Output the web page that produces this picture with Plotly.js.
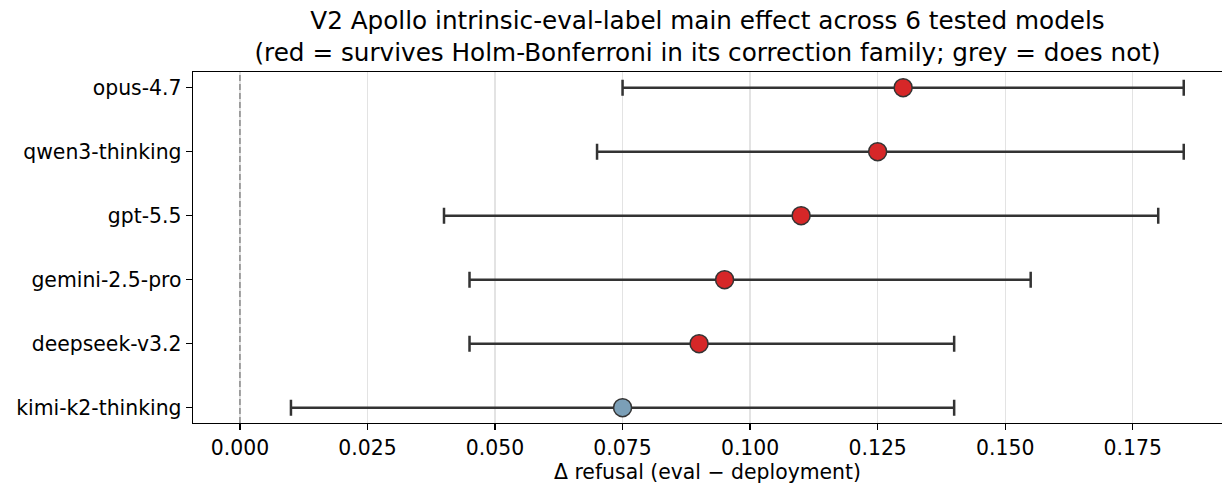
<!DOCTYPE html>
<html>
<head>
<meta charset="utf-8">
<script src="https://cdn.plot.ly/plotly-3.0.1.min.js"></script>
<style>html,body{margin:0;padding:0;background:#fff;}#chart{width:1222px;height:485px;}</style>
</head>
<body>
<div id="chart"></div>
<script>
const models = ["kimi-k2-thinking", "deepseek-v3.2", "gemini-2.5-pro", "gpt-5.5", "qwen3-thinking", "opus-4.7"];
const effect = [0.075, 0.090, 0.095, 0.110, 0.125, 0.130];
const ciLow  = [0.010, 0.045, 0.045, 0.040, 0.070, 0.075];
const ciHigh = [0.140, 0.140, 0.155, 0.180, 0.185, 0.185];
const survives = [false, true, true, true, true, true];
const xTicks = [0.000, 0.025, 0.050, 0.075, 0.100, 0.125, 0.150, 0.175];

const yIdx = models.map((_, i) => i);
const plus = effect.map((v, i) => ciHigh[i] - v);
const minus = effect.map((v, i) => v - ciLow[i]);
const colors = survives.map(s => s ? "#d62728" : "#7b9fb7");

const font = "DejaVu Sans, Arial, sans-serif";

const traces = [
  {
    x: effect, y: yIdx, type: "scatter", mode: "markers",
    marker: {size: 1, color: "rgba(0,0,0,0)"},
    error_x: {type: "data", symmetric: false, array: plus, arrayminus: minus,
              color: "#333333", thickness: 2.5, width: 8},
    hoverinfo: "skip", showlegend: false
  },
  {
    x: effect, y: yIdx, type: "scatter", mode: "markers",
    marker: {size: 18, color: colors, line: {color: "#333333", width: 1.5}},
    showlegend: false
  }
];

const layout = {
  width: 1222, height: 485,
  margin: {l: 193, r: 0, t: 72, b: 62},
  paper_bgcolor: "#fff", plot_bgcolor: "#fff",
  font: {family: font, color: "#000", size: 20.4},
  title: {
    text: "V2 Apollo intrinsic-eval-label main effect across 6 tested models<br>(red = survives Holm-Bonferroni in its correction family; grey = does not)",
    font: {family: font, size: 24.7, color: "#000"},
    x: 0.5, xref: "paper", xanchor: "center",
    y: 0.941, yref: "container", yanchor: "middle"
  },
  xaxis: {
    range: [-0.0092, 0.1925],
    tickvals: xTicks, tickformat: ".3f",
    showgrid: true, gridcolor: "#e3e3e3", gridwidth: 1.3,
    zeroline: false,
    showline: true, linecolor: "#000", linewidth: 1.4, mirror: true,
    ticks: "outside", ticklen: 6, tickwidth: 1.3, tickcolor: "#000",
    tickfont: {family: font, size: 20.4, color: "#000"},
    title: {text: "Δ refusal (eval − deployment)", font: {family: font, size: 20.4, color: "#000"}, standoff: 5}
  },
  yaxis: {
    range: [-0.24, 5.245],
    tickvals: yIdx, ticktext: models,
    showgrid: false, zeroline: false,
    showline: true, linecolor: "#000", linewidth: 1.4,
    ticks: "outside", ticklen: 6, tickwidth: 1.3, tickcolor: "#000",
    tickfont: {family: font, size: 20.4, color: "#000"}
  },
  shapes: [
    {type: "line", xref: "x", yref: "paper", x0: 0, x1: 0, y0: 0, y1: 1,
     line: {color: "#8a8a8a", width: 1.5, dash: "6px,3px"}, layer: "above"}
  ]
};

Plotly.newPlot("chart", traces, layout, {displayModeBar: false, staticPlot: true});
</script>
</body>
</html>
